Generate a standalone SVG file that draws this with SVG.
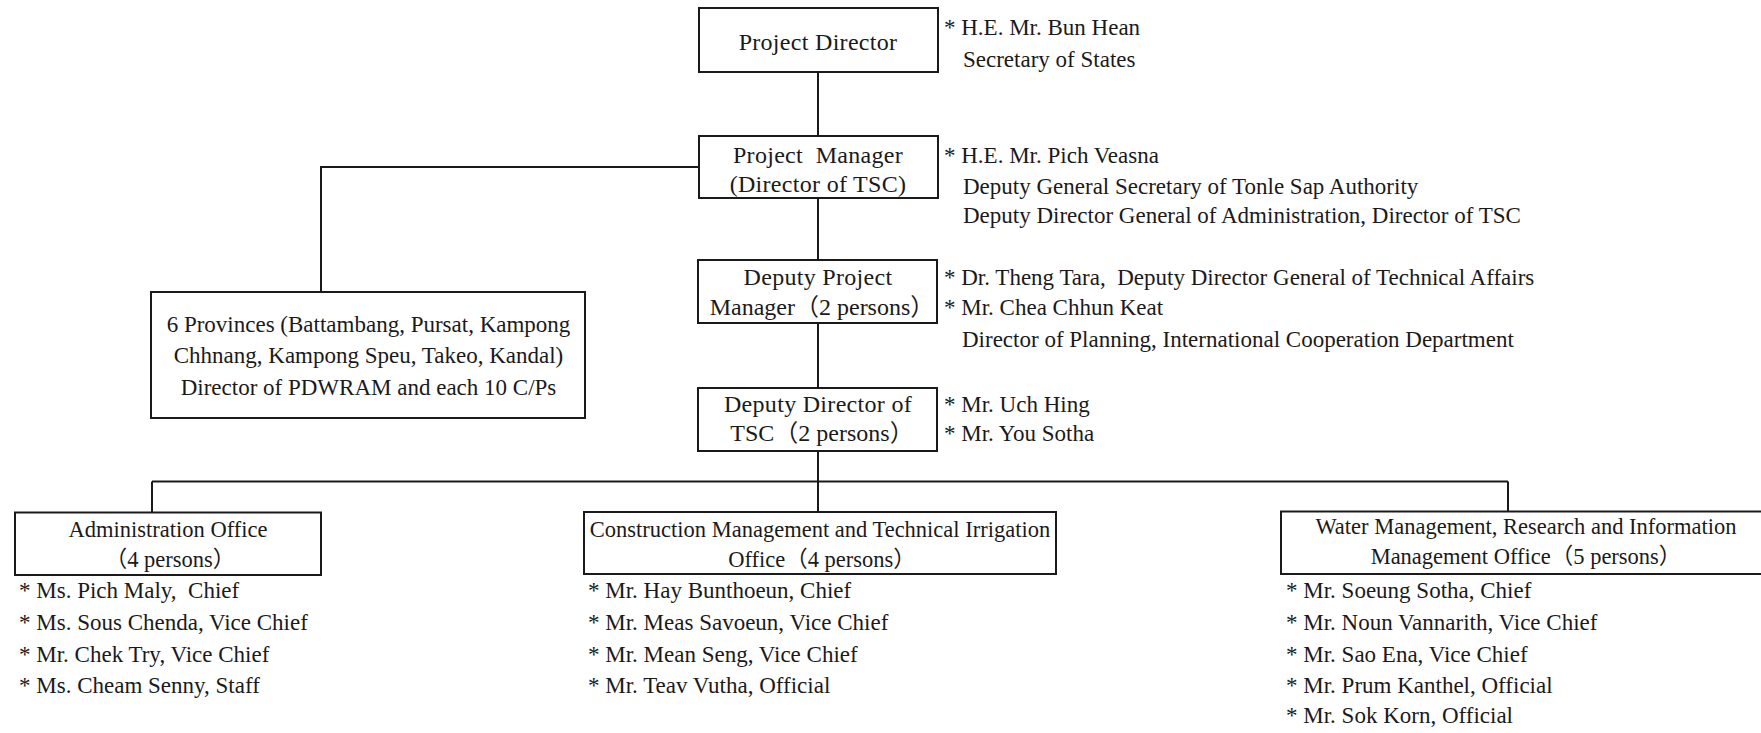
<svg xmlns="http://www.w3.org/2000/svg" width="1761" height="733" viewBox="0 0 1761 733">
<style>
.box{fill:#fff;stroke:#1a1a1a;stroke-width:2}
.conn{fill:none;stroke:#1a1a1a;stroke-width:2}
text{font-family:"Liberation Serif","Noto Sans CJK JP",serif;fill:#1a1a1a}
.lbl{font-size:24px;letter-spacing:0.3px;text-anchor:middle}
.fw{letter-spacing:0}
.hdr{font-size:22.5px;text-anchor:middle}
.note{font-size:23px}
</style>
<rect width="1761" height="733" fill="#fff"/>
<g id="connectors">
<path class="conn" d="M818 72V136M818 198V260M818 323V388M818 451V512"/>
<path class="conn" d="M699 167H321V292"/>
<path class="conn" d="M152 481.5H1508M152 481.5V512.5M1508 481.5V511.5"/>
</g>
<g id="project-director">
<rect class="box" x="699" y="8" width="239" height="64"/>
<text class="lbl" x="818" y="50">Project Director</text>
<text class="note" x="944" y="35">* H.E. Mr. Bun Hean</text>
<text class="note" x="963" y="67">Secretary of States</text>
</g>
<g id="project-manager">
<rect class="box" x="699" y="136" width="239" height="62"/>
<text class="lbl" x="818" y="163" xml:space="preserve">Project  Manager</text>
<text class="lbl" x="818" y="192">(Director of TSC)</text>
<text class="note" x="944" y="163">* H.E. Mr. Pich Veasna</text>
<text class="note" x="963" y="194">Deputy General Secretary of Tonle Sap Authority</text>
<text class="note" x="963" y="223">Deputy Director General of Administration, Director of TSC</text>
</g>
<g id="deputy-project-manager">
<rect class="box" x="698" y="260" width="239" height="63"/>
<text class="lbl" x="818" y="285">Deputy Project</text>
<text class="lbl fw" x="822" y="315">Manager（2 persons）</text>
<text class="note" x="944" y="285" xml:space="preserve">* Dr. Theng Tara,  Deputy Director General of Technical Affairs</text>
<text class="note" x="944" y="315">* Mr. Chea Chhun Keat</text>
<text class="note" x="962" y="347">Director of Planning, International Cooperation Department</text>
</g>
<g id="deputy-director">
<rect class="box" x="698" y="388" width="239" height="63"/>
<text class="lbl" x="818" y="412">Deputy Director of</text>
<text class="lbl fw" x="822" y="441">TSC（2 persons）</text>
<text class="note" x="944" y="412">* Mr. Uch Hing</text>
<text class="note" x="944" y="441">* Mr. You Sotha</text>
</g>
<g id="provinces">
<rect class="box" x="151" y="292" width="434" height="126"/>
<text class="note" x="368.5" y="332" text-anchor="middle">6 Provinces (Battambang, Pursat, Kampong</text>
<text class="note" x="368.5" y="363" text-anchor="middle">Chhnang, Kampong Speu, Takeo, Kandal)</text>
<text class="note" x="368.5" y="395" text-anchor="middle">Director of PDWRAM and each 10 C/Ps</text>
</g>
<g id="administration-office">
<rect class="box" x="15" y="512.5" width="306" height="62.5"/>
<text class="hdr" x="168" y="537">Administration Office</text>
<text class="hdr" x="170" y="567">（4 persons）</text>
<text class="note" x="19" y="598" xml:space="preserve">* Ms. Pich Maly,  Chief</text>
<text class="note" x="19" y="630">* Ms. Sous Chenda, Vice Chief</text>
<text class="note" x="19" y="662">* Mr. Chek Try, Vice Chief</text>
<text class="note" x="19" y="693">* Ms. Cheam Senny, Staff</text>
</g>
<g id="construction-office">
<rect class="box" x="584" y="512" width="472" height="62"/>
<text class="hdr" x="820" y="537">Construction Management and Technical Irrigation</text>
<text class="hdr" x="822" y="567">Office（4 persons）</text>
<text class="note" x="588" y="598">* Mr. Hay Bunthoeun, Chief</text>
<text class="note" x="588" y="630">* Mr. Meas Savoeun, Vice Chief</text>
<text class="note" x="588" y="662">* Mr. Mean Seng, Vice Chief</text>
<text class="note" x="588" y="693">* Mr. Teav Vutha, Official</text>
</g>
<g id="water-office">
<rect class="box" x="1281" y="511.5" width="490" height="62.5"/>
<text class="hdr" x="1526" y="534">Water Management, Research and Information</text>
<text class="hdr" x="1526" y="564">Management Office（5 persons）</text>
<text class="note" x="1286" y="598">* Mr. Soeung Sotha, Chief</text>
<text class="note" x="1286" y="630">* Mr. Noun Vannarith, Vice Chief</text>
<text class="note" x="1286" y="662">* Mr. Sao Ena, Vice Chief</text>
<text class="note" x="1286" y="693">* Mr. Prum Kanthel, Official</text>
<text class="note" x="1286" y="723">* Mr. Sok Korn, Official</text>
</g>
</svg>
